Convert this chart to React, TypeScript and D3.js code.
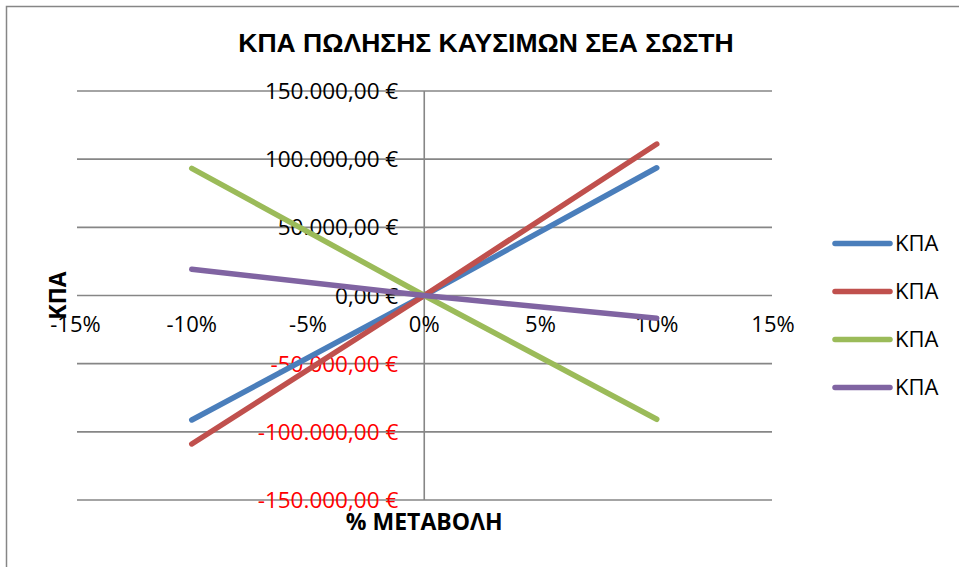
import React, { useRef, useEffect } from "react";
import * as d3 from "d3";

// % change on the x axis, one value per point
const changes = [-0.1, 0, 0.1];
// net present value for each of the four series
const npvBlue = [-91300, 0, 93700];
const npvRed = [-108900, 0, 111100];
const npvGreen = [93300, 0, -90800];
const npvPurple = [19200, 0, -16700];
const seriesNames = ["ΚΠΑ", "ΚΠΑ", "ΚΠΑ", "ΚΠΑ"];
const seriesColors = ["#4A7EBB", "#C0504D", "#9BBB59", "#8064A2"];

const title = "ΚΠΑ ΠΩΛΗΣΗΣ ΚΑΥΣΙΜΩΝ ΣΕΑ ΣΩΣΤΗ";
const xTitle = "% ΜΕΤΑΒΟΛΗ";
const yTitle = "ΚΠΑ";

export default function App() {
    const d3Container = useRef<SVGSVGElement | null>(null);

    useEffect(() => {
        if (d3Container.current) drawChart();
    }, []);

    const drawChart = () => {
        const width = 959;
        const height = 567;
        const plot = { left: 75.5, right: 773, top: 91, bottom: 500 };
        const font = "'Open Sans', sans-serif";

        const locale = d3.formatLocale({
            decimal: ",",
            thousands: ".",
            grouping: [3],
            currency: ["", " €"],
            minus: "-",
        });
        const yFormat = locale.format("$,.2f");
        const xFormat = locale.format(".0%");

        const x = d3.scaleLinear().domain([-0.15, 0.15]).range([plot.left, plot.right]);
        const y = d3.scaleLinear().domain([-150000, 150000]).range([plot.bottom, plot.top]);

        const svg = d3.select(d3Container.current);
        svg.selectAll("*").remove();

        svg.append("rect")
            .attr("x", 6.5).attr("y", 6.5)
            .attr("width", width + 10).attr("height", height + 10)
            .attr("fill", "#fff")
            .attr("stroke", "#868686")
            .attr("stroke-width", 1.5);

        // horizontal gridlines
        const yTicks = y.ticks(6);
        svg.append("g")
            .selectAll("line")
            .data(yTicks)
            .join("line")
                .attr("x1", plot.left + 1.5)
                .attr("x2", plot.right - 1)
                .attr("y1", d => y(d))
                .attr("y2", d => y(d))
                .attr("stroke", "#868686")
                .attr("stroke-width", 1.6);

        // vertical axis at x = 0
        svg.append("line")
            .attr("x1", x(0)).attr("x2", x(0))
            .attr("y1", plot.top).attr("y2", plot.bottom)
            .attr("stroke", "#868686")
            .attr("stroke-width", 1.6);

        // y tick labels
        svg.append("g")
            .attr("font-family", font)
            .attr("font-size", 22.5)
            .attr("text-anchor", "end")
            .selectAll("text")
            .data(yTicks)
            .join("text")
                .attr("x", x(0) - 26)
                .attr("y", d => y(d))
                .attr("dy", "0.36em")
                .attr("fill", d => (d < 0 ? "#FF0000" : "#000"))
                .text(d => yFormat(d));

        // x tick labels
        svg.append("g")
            .attr("font-family", font)
            .attr("font-size", 22)
            .attr("text-anchor", "middle")
            .selectAll("text")
            .data(x.ticks(6))
            .join("text")
                .attr("x", d => x(d))
                .attr("y", y(0) + 36)
                .text(d => xFormat(d));

        const series = [npvBlue, npvRed, npvGreen, npvPurple];
        const line = d3.line<[number, number]>()
            .x(d => x(d[0]))
            .y(d => y(d[1]));

        svg.append("g")
            .attr("fill", "none")
            .attr("stroke-width", 5.5)
            .attr("stroke-linecap", "round")
            .attr("stroke-linejoin", "round")
            .selectAll("path")
            .data(series)
            .join("path")
                .attr("stroke", (d, i) => seriesColors[i])
                .attr("d", d => line(d.map((v, j) => [changes[j], v] as [number, number])));

        // titles
        svg.append("text")
            .attr("x", 486).attr("y", 52)
            .attr("text-anchor", "middle")
            .attr("font-family", "'Liberation Sans', Arial, sans-serif")
            .attr("font-weight", "bold")
            .attr("font-size", 26.5)
            .text(title);

        svg.append("text")
            .attr("x", x(0)).attr("y", 530)
            .attr("text-anchor", "middle")
            .attr("font-family", font)
            .attr("font-weight", "bold")
            .attr("font-size", 23)
            .text(xTitle);

        svg.append("text")
            .attr("transform", `translate(66,${(plot.top + plot.bottom) / 2}) rotate(-90)`)
            .attr("text-anchor", "middle")
            .attr("font-family", font)
            .attr("font-weight", "bold")
            .attr("font-size", 23)
            .text(yTitle);

        // legend
        const legend = svg.append("g")
            .selectAll("g")
            .data(seriesNames)
            .join("g")
                .attr("transform", (d, i) => `translate(835,${243.5 + i * 48})`);
        legend.append("line")
            .attr("x1", 0).attr("x2", 55)
            .attr("stroke", (d, i) => seriesColors[i])
            .attr("stroke-width", 5.5)
            .attr("stroke-linecap", "round");
        legend.append("text")
            .attr("x", 60)
            .attr("dy", "0.36em")
            .attr("font-family", font)
            .attr("font-size", 22)
            .text(d => d);
    };

    return (
        <svg
            ref={d3Container}
            width={959}
            height={567}
            style={{ position: "absolute", left: 0, top: 0 }}
        />
    );
}
